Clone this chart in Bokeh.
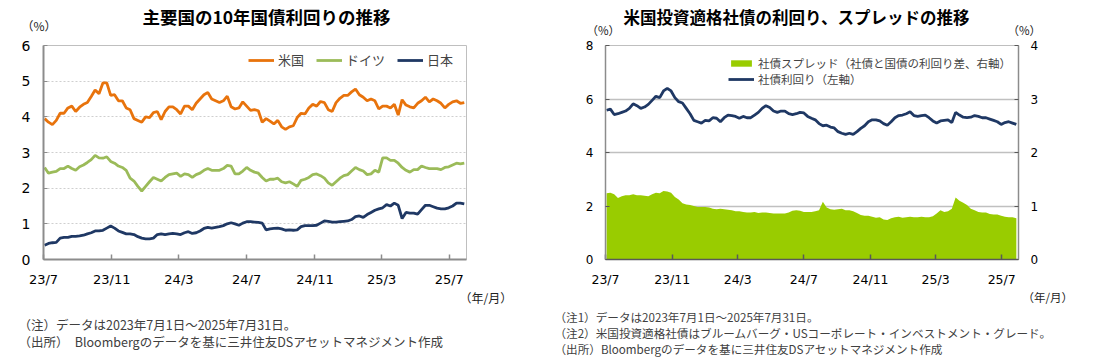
import pandas as pd
from bokeh.plotting import figure
from bokeh.models import Range1d, LinearAxis, FixedTicker, Label, Legend
from bokeh.layouts import row, column
from bokeh.embed import file_html
from bokeh.resources import INLINE

# ---------------- data (weekly readings, Mon 2023-07-03 ... 2025-07-28) ----------------
us_10y = [
    3.95, 3.85, 3.78, 3.90, 4.10,
    4.10, 4.25, 4.30, 4.15,
    4.27, 4.35, 4.40, 4.57,
    4.75, 4.65, 4.95, 4.95, 4.60,
    4.62, 4.45, 4.45, 4.25,
    4.20, 3.95, 3.90, 3.85,
    4.00, 3.98, 4.12, 4.15, 3.92,
    4.15, 4.28, 4.28, 4.20,
    4.08, 4.30, 4.30, 4.20,
    4.38, 4.50, 4.62, 4.68, 4.50,
    4.45, 4.40, 4.45, 4.58,
    4.28, 4.22, 4.25, 4.42,
    4.30, 4.18, 4.20, 4.17, 3.85,
    3.95, 3.88, 3.80, 3.90,
    3.72, 3.65, 3.72, 3.75, 3.98,
    4.10, 4.08, 4.25, 4.35,
    4.30, 4.43, 4.40, 4.20,
    4.15, 4.40, 4.52, 4.60, 4.60,
    4.70, 4.78, 4.62, 4.55,
    4.45, 4.50, 4.45, 4.22,
    4.30, 4.30, 4.25, 4.35, 4.05,
    4.48, 4.33, 4.28, 4.25,
    4.38, 4.45, 4.55, 4.42,
    4.50, 4.45, 4.38, 4.25, 4.35,
    4.42, 4.45, 4.38, 4.40,
]
de_10y = [
    2.58, 2.42, 2.45, 2.47, 2.55,
    2.55, 2.62, 2.55, 2.50,
    2.60, 2.65, 2.72, 2.80,
    2.92, 2.85, 2.84, 2.88, 2.75,
    2.70, 2.62, 2.58, 2.50,
    2.28, 2.20, 2.05, 1.92,
    2.05, 2.18, 2.30, 2.25, 2.20,
    2.30, 2.38, 2.40, 2.42,
    2.33, 2.40, 2.38, 2.30,
    2.38, 2.42, 2.50, 2.55, 2.50,
    2.50, 2.50, 2.55, 2.64,
    2.62, 2.40, 2.40, 2.48,
    2.58, 2.50, 2.45, 2.42, 2.30,
    2.20, 2.25, 2.25, 2.28,
    2.18, 2.15, 2.18, 2.12, 2.05,
    2.22, 2.25, 2.30, 2.38,
    2.40, 2.35, 2.28, 2.15,
    2.08, 2.18, 2.28, 2.35, 2.38,
    2.48, 2.58, 2.52, 2.48,
    2.38, 2.40, 2.50, 2.45,
    2.85, 2.85, 2.78, 2.78, 2.70,
    2.58, 2.50, 2.45, 2.52,
    2.52, 2.62, 2.58, 2.55,
    2.55, 2.55, 2.52, 2.58, 2.60,
    2.65, 2.70, 2.68, 2.70,
]
jp_10y = [
    0.40, 0.45, 0.47, 0.48, 0.60,
    0.62, 0.62, 0.65, 0.65,
    0.66, 0.68, 0.72, 0.75,
    0.80, 0.80, 0.82, 0.88, 0.94,
    0.88, 0.80, 0.76, 0.72,
    0.72, 0.70, 0.64, 0.60,
    0.58, 0.58, 0.60, 0.70, 0.72,
    0.70, 0.72, 0.73, 0.72,
    0.70, 0.75, 0.78, 0.73,
    0.75, 0.80, 0.87, 0.90, 0.88,
    0.90, 0.92, 0.95, 1.00,
    1.03, 1.00, 0.96, 1.02,
    1.06, 1.06, 1.05, 1.04, 1.02,
    0.83, 0.86, 0.87, 0.88,
    0.86, 0.82, 0.83, 0.82, 0.83,
    0.92, 0.95, 0.95, 0.95,
    0.96, 1.02, 1.08, 1.07,
    1.05, 1.05, 1.06, 1.07, 1.08,
    1.12, 1.20, 1.22, 1.18,
    1.26, 1.32, 1.38, 1.42,
    1.45, 1.54, 1.50, 1.58, 1.52,
    1.15, 1.32, 1.30, 1.30,
    1.27, 1.40, 1.52, 1.52,
    1.48, 1.44, 1.42, 1.42, 1.45,
    1.50, 1.58, 1.58, 1.56,
]
corp_yield = [
    5.58, 5.62, 5.42, 5.45, 5.50,
    5.55, 5.65, 5.82, 5.75,
    5.65, 5.70, 5.80, 5.95,
    6.10, 6.05, 6.30, 6.40, 6.30,
    6.05, 5.90, 5.85, 5.65,
    5.45, 5.20, 5.15, 5.10,
    5.20, 5.18, 5.30, 5.28, 5.15,
    5.30, 5.40, 5.38, 5.35,
    5.28, 5.35, 5.30, 5.30,
    5.40, 5.50, 5.65, 5.75, 5.68,
    5.55, 5.50, 5.55, 5.55,
    5.45, 5.42, 5.45, 5.50,
    5.48, 5.35, 5.28, 5.22, 5.08,
    5.00, 5.02, 4.95, 4.92,
    4.78, 4.72, 4.68, 4.72, 4.68,
    4.78, 4.90, 5.00, 5.15,
    5.22, 5.22, 5.18, 5.08,
    5.02, 5.15, 5.30, 5.38, 5.40,
    5.45, 5.52, 5.38, 5.35,
    5.38, 5.40, 5.30, 5.18,
    5.10, 5.18, 5.20, 5.22, 5.12,
    5.50, 5.40, 5.32, 5.30,
    5.32, 5.38, 5.35, 5.30,
    5.30, 5.25, 5.20, 5.15, 5.05,
    5.12, 5.15, 5.10, 5.05,
]
corp_spread = [
    1.24, 1.25, 1.22, 1.15, 1.18,
    1.20, 1.20, 1.22, 1.20,
    1.20, 1.19, 1.18, 1.22,
    1.25, 1.24, 1.28, 1.27, 1.25,
    1.17, 1.12, 1.05, 1.03,
    1.02, 1.00, 0.98, 0.98,
    0.98, 0.97, 0.95, 0.94, 0.95,
    0.94, 0.93, 0.92, 0.90,
    0.90, 0.89, 0.88, 0.88,
    0.89, 0.87, 0.88, 0.88, 0.87,
    0.86, 0.86, 0.86, 0.86,
    0.88, 0.91, 0.92, 0.91,
    0.89, 0.89, 0.89, 0.90, 0.92,
    1.08, 0.97, 0.94, 0.93,
    0.94, 0.95, 0.92, 0.92, 0.90,
    0.87, 0.83, 0.82, 0.82,
    0.80, 0.78, 0.79, 0.75,
    0.74, 0.77, 0.79, 0.80, 0.78,
    0.79, 0.80, 0.79, 0.79,
    0.80, 0.79, 0.79, 0.81,
    0.86, 0.92, 0.89, 0.90, 0.95,
    1.16, 1.10, 1.06, 1.02,
    0.95, 0.92, 0.89, 0.88,
    0.88, 0.85, 0.84, 0.84, 0.82,
    0.80, 0.79, 0.79, 0.77,
]

tick_dates = ["2023-07-01", "2023-11-01", "2024-03-01", "2024-07-01",
              "2024-11-01", "2025-03-01", "2025-07-01"]
tick_labels = ["23/7", "23/11", "24/3", "24/7", "24/11", "25/3", "25/7"]

start = pd.Timestamp("2023-07-01")
end = pd.Timestamp("2025-08-01")
dates = pd.date_range("2023-07-03", periods=len(us_10y), freq="7D")
days = [int(d) for d in (dates - start).days]
tick_days = [int((pd.Timestamp(d) - start).days) for d in tick_dates]
xmax = int((end - start).days)

JP = "Noto Sans CJK JP"
NUM = "DejaVu Sans"
W = 1097
H = 357
TOP = 36          # height of the title strip
MIDB = 289        # bottom of the chart row (top of the notes strip)
W1 = 550
OFF = W1
W2 = W - W1


def text_strip(w, h):
    f = figure(width=w, height=h, output_backend="svg", toolbar_location=None,
               x_range=Range1d(0, w), y_range=Range1d(h, 0),
               x_axis_location=None, y_axis_location=None,
               min_border=0, min_border_left=0, min_border_right=0,
               min_border_top=0, min_border_bottom=0)
    f.grid.visible = False
    f.outline_line_color = None
    return f


def text(f, y0, px, py, s, size, bold=False, align="left", color="#000000"):
    f.add_layout(Label(x=px, y=py - y0, text=s, text_font=JP,
                       text_font_size=size, text_font_style="bold" if bold else "normal",
                       text_align=align, text_baseline="middle", text_color=color))


def style_x(p, size):
    ax = p.xaxis[0]
    ax.ticker = FixedTicker(ticks=tick_days)
    ax.major_label_overrides = {d: lab for d, lab in zip(tick_days, tick_labels)}
    ax.major_tick_in = 5
    ax.major_tick_out = 0
    ax.minor_tick_line_color = None
    ax.major_label_standoff = 12
    ax.major_label_text_font = NUM
    ax.major_label_text_font_size = size
    ax.major_label_text_color = "#000000"


# ---------------- left chart ----------------
p1 = figure(width=W1, height=MIDB - TOP, output_backend="svg", toolbar_location=None,
            x_range=Range1d(0, xmax), y_range=Range1d(0, 6),
            min_border_left=43, min_border_right=W1 - 466,
            min_border_top=42 - TOP, min_border_bottom=MIDB - 259)
p1.outline_line_color = "#bfbfbf"
style_x(p1, "13px")
p1.xaxis.axis_line_color = "#8c8c8c"
p1.xaxis.axis_line_width = 2
p1.xaxis.major_tick_line_color = "#8c8c8c"
p1.xaxis.major_tick_line_width = 1.5
p1.yaxis.ticker = FixedTicker(ticks=[0, 1, 2, 3, 4, 5, 6])
p1.yaxis.major_tick_in = 4
p1.yaxis.major_tick_out = 0
p1.yaxis.minor_tick_line_color = None
p1.yaxis.axis_line_color = "#8c8c8c"
p1.yaxis.axis_line_width = 2
p1.yaxis.major_tick_line_color = "#8c8c8c"
p1.yaxis.major_label_standoff = 13
p1.yaxis.major_label_text_font = NUM
p1.yaxis.major_label_text_font_size = "14px"
p1.yaxis.major_label_text_color = "#000000"
p1.xgrid.visible = False
p1.ygrid.ticker = FixedTicker(ticks=[1, 2, 3, 4, 5])
p1.ygrid.grid_line_color = "#cfcfcf"
p1.ygrid.grid_line_dash = "2 2"

r_us = p1.line(days, us_10y, line_color="#E8730C", line_width=2.8)
r_de = p1.line(days, de_10y, line_color="#9BBB59", line_width=2.8)
r_jp = p1.line(days, jp_10y, line_color="#1F3864", line_width=2.8)

leg1 = Legend(items=[("米国", [r_us]), ("ドイツ", [r_de]), ("日本", [r_jp])],
              orientation="horizontal", location=(205, 217 - 9 - 18),
              border_line_color=None, background_fill_alpha=0, padding=0, margin=0,
              spacing=12, glyph_width=26, glyph_height=18, label_height=18,
              label_standoff=4, label_text_font=JP, label_text_font_size="13px")
p1.add_layout(leg1)

# ---------------- right chart ----------------
FL, FR, FT, FB = 605, 1018, 45, 259
p2 = figure(width=W2, height=MIDB - TOP, output_backend="svg", toolbar_location=None,
            x_range=Range1d(0, xmax), y_range=Range1d(0, 8),
            min_border_left=FL - OFF, min_border_right=W - FR,
            min_border_top=FT - TOP, min_border_bottom=MIDB - FB)
p2.extra_y_ranges = {"r": Range1d(0, 4)}
p2.outline_line_color = "#bfbfbf"
style_x(p2, "12.5px")
p2.xaxis.axis_line_color = "#595959"
p2.xaxis.axis_line_width = 1.5
p2.xaxis.major_tick_line_color = "#595959"
p2.xaxis.major_tick_line_width = 1.5

raxis = LinearAxis(y_range_name="r")
p2.add_layout(raxis, "right")
p2.yaxis[0].ticker = FixedTicker(ticks=[0, 2, 4, 6, 8])
raxis.ticker = FixedTicker(ticks=[0, 1, 2, 3, 4])
for ax in (p2.yaxis[0], raxis):
    ax.major_tick_in = 4
    ax.major_tick_out = 0
    ax.minor_tick_line_color = None
    ax.axis_line_color = "#8c8c8c"
    ax.axis_line_width = 1.5
    ax.major_tick_line_color = "#595959"
    ax.major_label_standoff = 12
    ax.major_label_text_font = NUM
    ax.major_label_text_font_size = "12px"
    ax.major_label_text_color = "#000000"
p2.xgrid.visible = False
p2.ygrid.ticker = FixedTicker(ticks=[2, 4, 6])
p2.ygrid.grid_line_color = "#c0c0c0"
p2.ygrid.grid_line_width = 1.3

r_area = p2.varea(x=days, y1=0, y2=corp_spread, y_range_name="r", fill_color="#99CC00")
r_line = p2.line(days, corp_yield, line_color="#1F3864", line_width=2.8)

leg2 = Legend(items=[("社債スプレッド（社債と国債の利回り差、右軸）", [r_area]),
                     ("社債利回り（左軸）", [r_line])],
              orientation="vertical", location=(728 - FL, (FB - FT) - 10 - 32),
              border_line_color=None, background_fill_alpha=0, padding=0, margin=0,
              spacing=0, glyph_width=26, glyph_height=8, label_height=16,
              label_standoff=4, label_text_font=JP, label_text_font_size="11.5px")
p2.add_layout(leg2)

# ---------------- text strips ----------------
top = text_strip(W, TOP)
text(top, 0, 266, 16, "主要国の10年国債利回りの推移", "17.5px", bold=True, align="center")
text(top, 0, 21, 25, "（%）", "12px", color="#222222")
text(top, 0, 796, 16, "米国投資適格社債の利回り、スプレッドの推移", "16.5px", bold=True, align="center")
text(top, 0, 586, 29, "（%）", "11.5px", color="#222222")
text(top, 0, 1007, 29, "（%）", "11.5px", color="#222222")

bot = text_strip(W, H - MIDB)
text(bot, MIDB, 459, 297, "（年/月）", "12px", color="#222222")
text(bot, MIDB, 18, 324, "（注）データは2023年7月1日～2025年7月31日。", "12.5px", color="#404040")
text(bot, MIDB, 18, 341, "（出所）　Bloombergのデータを基に三井住友DSアセットマネジメント作成", "12.5px", color="#404040")
text(bot, MIDB, 1022, 296, "（年/月）", "11.5px", color="#222222")
text(bot, MIDB, 554, 316, "（注1）データは2023年7月1日～2025年7月31日。", "11.6px", color="#404040")
text(bot, MIDB, 554, 332, "（注2）米国投資適格社債はブルームバーグ・USコーポレート・インベストメント・グレード。", "11.6px", color="#404040")
text(bot, MIDB, 554, 348, "（出所）Bloombergのデータを基に三井住友DSアセットマネジメント作成", "11.6px", color="#404040")

layout = column(top, row(p1, p2, spacing=0), bot, spacing=0)
open("out.html", "w").write(file_html(layout, INLINE))
